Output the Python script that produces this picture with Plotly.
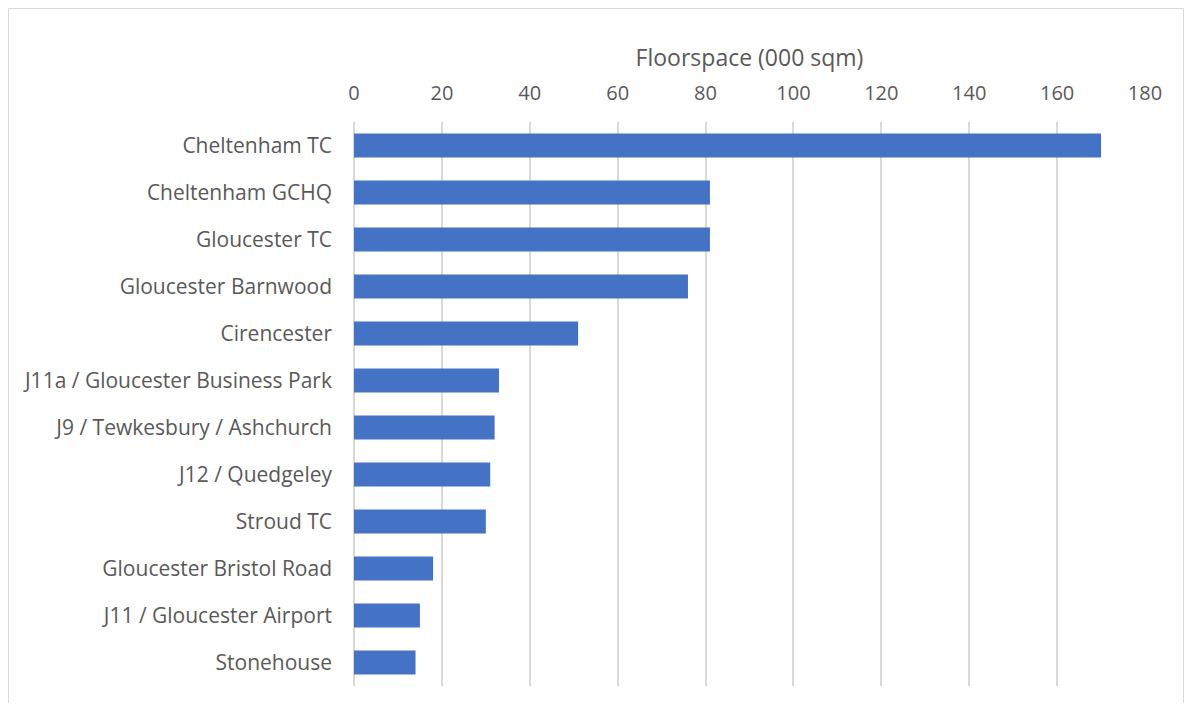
import plotly.graph_objects as go

categories = ["Cheltenham TC", "Cheltenham GCHQ", "Gloucester TC", "Gloucester Barnwood",
              "Cirencester", "J11a / Gloucester Business Park", "J9 / Tewkesbury / Ashchurch",
              "J12 / Quedgeley", "Stroud TC", "Gloucester Bristol Road",
              "J11 / Gloucester Airport", "Stonehouse"]
values = [170, 81, 81, 76, 51, 33, 32, 31, 30, 18, 15, 14]
tick_vals = [0, 20, 40, 60, 80, 100, 120, 140, 160, 180]

fig = go.Figure(go.Bar(
    x=values, y=categories, orientation="h",
    marker=dict(color="#4472C4", line=dict(width=0)),
    width=0.51,
))

OFF = 8  # page body margin
W, H = 1176, 695
L, T = 354 - OFF, 122 - OFF
R = OFF + W - 1145
B = OFF + H - 686
pw = W - L - R
ph = H - T - B

fig.update_layout(
    width=W, height=H,
    margin=dict(l=L, r=R, t=T, b=B, pad=0),
    paper_bgcolor="white", plot_bgcolor="white",
    font=dict(family="Open Sans", color="#595959", size=20),
    showlegend=False,
    xaxis=dict(
        side="top", range=[0, 180], tickvals=tick_vals,
        showgrid=True, gridcolor="#d9d9d9", gridwidth=1.5,
        zeroline=True, zerolinecolor="#d9d9d9", zerolinewidth=1.5,
        showline=False, ticks="", ticklabelstandoff=17,
        tickfont=dict(size=20, color="#595959"),
        title=dict(text="Floorspace (000 sqm)", font=dict(size=23, color="#595959"), standoff=5),
    ),
    yaxis=dict(
        autorange="reversed", showgrid=False, showline=False, ticks="",
        ticklabelstandoff=21,
        tickfont=dict(size=21, color="#595959"),
    ),
    shapes=[dict(
        type="rect", xref="paper", yref="paper",
        x0=(0.5 - L) / pw, x1=(W - 0.5 - L) / pw,
        y0=(T + ph - (H + 5)) / ph, y1=(T + ph - 0.5) / ph,
        line=dict(color="#d9d9d9", width=1), fillcolor="rgba(0,0,0,0)", layer="below",
    )],
)

fig.write_html("out.html")
